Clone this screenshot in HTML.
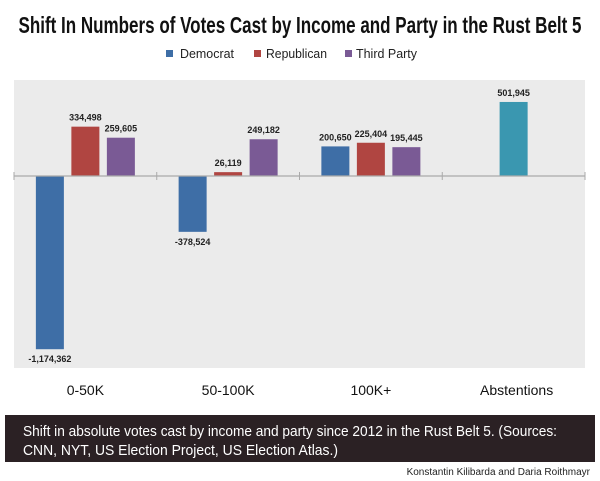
<!DOCTYPE html>
<html><head><meta charset="utf-8"><style>
html,body{margin:0;padding:0;background:#fff;}
svg{display:block;font-family:"Liberation Sans",sans-serif;}
</style></head><body>
<svg id="chart" width="600" height="481" viewBox="0 0 600 481">
<text x="300" y="33" text-anchor="middle" font-family="'Liberation Sans Narrow','Liberation Sans',sans-serif" font-weight="bold" font-size="23" textLength="563" lengthAdjust="spacingAndGlyphs" fill="#111">Shift In Numbers of Votes Cast by Income and Party in the Rust Belt 5</text>
<g>
<g><rect x="166" y="50" width="7" height="7" fill="#3e6ea6"/><text x="180" y="58" font-size="13" textLength="54" lengthAdjust="spacingAndGlyphs" fill="#222">Democrat</text></g>
<g><rect x="254" y="50" width="7" height="7" fill="#b04541"/><text x="266" y="58" font-size="13" textLength="61" lengthAdjust="spacingAndGlyphs" fill="#222">Republican</text></g>
<g><rect x="345" y="50" width="7" height="7" fill="#7a5a95"/><text x="356" y="58" font-size="13" textLength="61" lengthAdjust="spacingAndGlyphs" fill="#222">Third Party</text></g>
</g>
<rect x="14" y="80" width="571" height="288" fill="#ebebeb"/>
<g id="marks"></g>
<rect x="5" y="415" width="590" height="47" fill="#2b2124"/>
<text x="23" y="436" font-size="15" fill="#fff" textLength="534" lengthAdjust="spacingAndGlyphs">Shift in absolute votes cast by income and party since 2012 in the Rust Belt 5. (Sources:</text>
<text x="23" y="455" font-size="15" fill="#fff" textLength="315" lengthAdjust="spacingAndGlyphs">CNN, NYT, US Election Project, US Election Atlas.)</text>
<text x="590" y="475" text-anchor="end" font-size="10" fill="#222">Konstantin Kilibarda and Daria Roithmayr</text>
</svg>
<script>
const categories = ["0-50K", "50-100K", "100K+", "Abstentions"];
const democrat = [-1174362, -378524, 200650, null];
const republican = [334498, 26119, 225404, null];
const thirdParty = [259605, 249182, 195445, null];
const abstentions = [null, null, null, 501945];

const NS = "http://www.w3.org/2000/svg";
const marks = document.getElementById("marks");
const plotL = 14, plotR = 585, baseY = 176, pxPerVote = 1.475e-4;
const groupW = (plotR - plotL) / categories.length;
function y(v){ return baseY - v * pxPerVote; }
function groupCenter(i){ return plotL + groupW * (i + 0.5); }
function fmt(v){ return v.toLocaleString("en-US"); }
function mk(tag, attrs){ const e = document.createElementNS(NS, tag); for (const k in attrs) e.setAttribute(k, attrs[k]); marks.appendChild(e); return e; }

const series = [
  {vals: democrat, color: "#3e6ea6", off: -35.5, key: "democrat"},
  {vals: republican, color: "#b04541", off: 0, key: "republican"},
  {vals: thirdParty, color: "#7a5a95", off: 35.5, key: "third-party"},
  {vals: abstentions, color: "#3a97b0", off: 0, key: "abstentions"}
];
series.forEach(s => {
  s.vals.forEach((v, i) => {
    if (v === null) return;
    const cx = groupCenter(i) + s.off;
    const y0 = y(Math.max(v, 0)), y1 = y(Math.min(v, 0));
    const r = mk("rect", {x: cx - 14, y: y0, width: 28, height: Math.max(y1 - y0, 1), fill: s.color});
    
    
    const ly = v >= 0 ? y0 - 6 : y1 + 13;
    const t = mk("text", {x: cx, y: ly, "text-anchor": "middle", "font-size": "9", "font-weight": "bold", fill: "#222"});
    t.textContent = fmt(v);
    
    
  });
});
const axis = mk("line", {x1: plotL, x2: plotR, y1: baseY, y2: baseY, stroke: "#aaa", "stroke-width": 1.2});


for (let i = 0; i <= categories.length; i++) {
  const x = plotL + groupW * i;
  const tk = mk("line", {x1: x, x2: x, y1: baseY - 4, y2: baseY + 4, stroke: "#aaa", "stroke-width": 1});
  
  
}
categories.forEach((c, i) => {
  const t = mk("text", {x: groupCenter(i) + (i === 3 ? 3 : 0), y: 395, "text-anchor": "middle", "font-size": "14", fill: "#111"});
  t.textContent = c;
  
  
});
</script>
</body></html>
